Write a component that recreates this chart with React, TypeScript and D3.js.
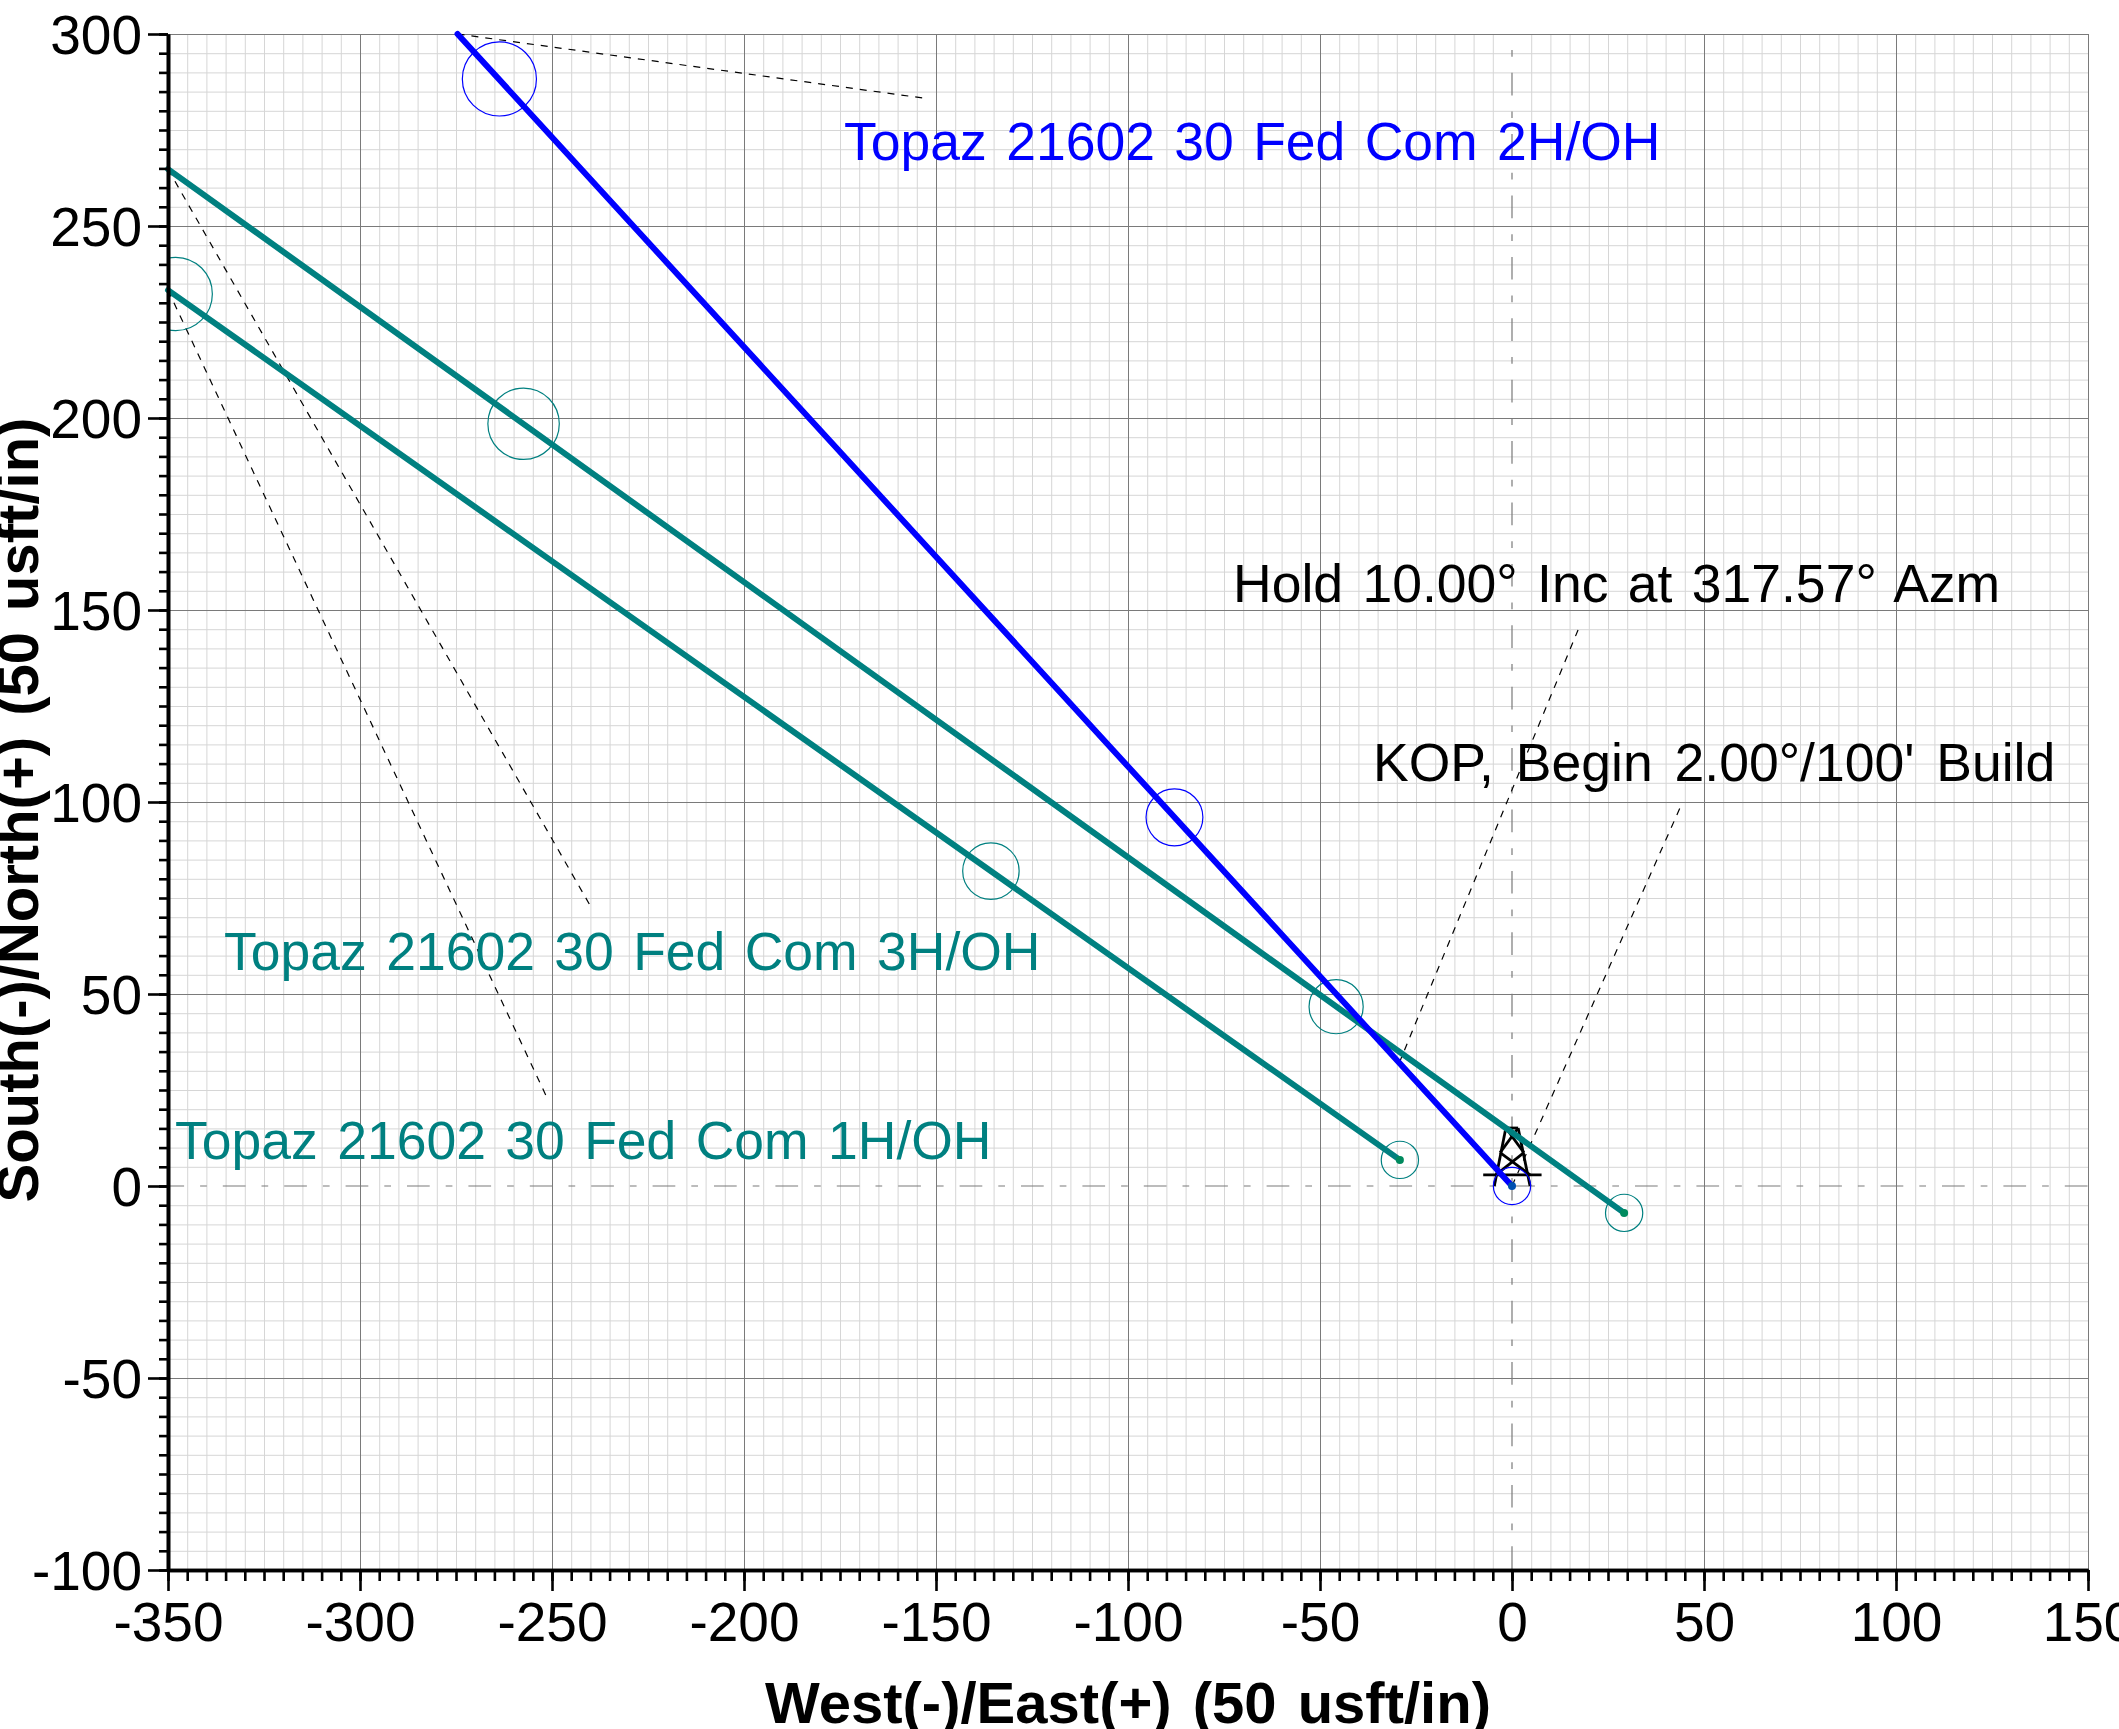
import * as d3 from "d3";
import React, { useEffect, useRef } from "react";

// well plan view, all values in usft
const xMajor = [-350, -300, -250, -200, -150, -100, -50, 0, 50, 100, 150];
const yMajor = [-100, -50, 0, 50, 100, 150, 200, 250, 300];

const well1H: [number, number][] = [[-29.2, 6.8], [-350, 233.3]];
const well3H: [number, number][] = [[29.2, -7], [-350, 264.8]];
const well2H: [number, number][] = [[0, 0], [-274.6, 300]];

// casing circles: x, y, radius
const rings1H = [[-29.2, 6.8, 4.85], [-135.7, 82, 7.35], [-348, 232.3, 9.55]];
const rings3H = [[29.2, -7, 4.85], [-45.8, 46.7, 7.05], [-257.4, 198.5, 9.3]];
const rings2H = [[0, 0, 4.85], [-87.9, 96, 7.4], [-263.7, 288.3, 9.65]];

const leaders = [
  [[-274.6, 300], [-153.2, 283.3]],
  [[-350, 264.8], [-239.7, 72.4]],
  [[-350, 233.3], [-251.4, 23.2]],
  [[-29.4, 32], [17.2, 144.8]],
  [[0, 0], [44.3, 99.7]],
];

const derrick = [
  [[-1.6, 15.1], [1.6, 15.1]],
  [[-1.6, 15.1], [-4.6, 0]],
  [[1.6, 15.1], [4.7, 0]],
  [[-7.5, 2.9], [7.7, 2.9]],
  [[-3.1, 8.7], [4.7, 2.9]],
  [[3.1, 8.7], [-4.2, 2.9]],
  [[-1.6, 15.1], [3.1, 8.7]],
  [[1.6, 15.1], [-3.1, 8.7]],
];

const wellNames = [
  "Topaz 21602 30 Fed Com 2H/OH",
  "Topaz 21602 30 Fed Com 3H/OH",
  "Topaz 21602 30 Fed Com 1H/OH",
];
const notes = ["Hold 10.00° Inc at 317.57° Azm", "KOP, Begin 2.00°/100' Build"];

const FONT = "'Liberation Sans', Arial, sans-serif";
const TEAL = "#008080";
const BLUE = "#0000ff";

export default function App() {
  const svgRef = useRef<SVGSVGElement | null>(null);

  useEffect(() => {
    const svg = d3.select(svgRef.current);
    svg.selectAll("*").remove();

    const x = d3.scaleLinear().domain([-350, 150]).range([168, 2088]);
    const y = d3.scaleLinear().domain([-100, 300]).range([1570, 34]);
    const xMinor = d3.range(-350, 151, 5);
    const yMinor = d3.range(-100, 301, 5);
    const w = 1920;
    const h = 1536;
    const notZero = (v: number) => v !== 0; // zero lines get their own dash-dot

    svg.append("defs").append("clipPath").attr("id", "plot")
      .append("rect").attr("x", 168).attr("y", 34).attr("width", w).attr("height", h);

    const gridColor = (g: any, c: string) => {
      g.select(".domain").remove();
      g.selectAll(".tick line").attr("stroke", c).attr("stroke-width", 1);
    };

    // grid, minor first
    svg.append("g").attr("transform", "translate(0,34)")
      .call(d3.axisBottom(x).tickValues(xMinor.filter(notZero)).tickSize(h).tickFormat(() => ""))
      .call(gridColor, "#d6d6d6");
    svg.append("g").attr("transform", "translate(168,0)")
      .call(d3.axisRight(y).tickValues(yMinor.filter(notZero)).tickSize(w).tickFormat(() => ""))
      .call(gridColor, "#d6d6d6");
    svg.append("g").attr("transform", "translate(0,34)")
      .call(d3.axisBottom(x).tickValues(xMajor.filter(notZero)).tickSize(h).tickFormat(() => ""))
      .call(gridColor, "#7a7a7a");
    svg.append("g").attr("transform", "translate(168,0)")
      .call(d3.axisRight(y).tickValues(yMajor.filter(notZero)).tickSize(w).tickFormat(() => ""))
      .call(gridColor, "#7a7a7a");

    // zero lines
    svg.append("line").attr("x1", x(-350)).attr("x2", x(150)).attr("y1", y(0)).attr("y2", y(0))
      .attr("stroke", "#7a7a7a").attr("stroke-width", 1.2)
      .attr("stroke-dasharray", "22.7 16 6.7 16").attr("stroke-dashoffset", -54.8);
    svg.append("line").attr("x1", x(0)).attr("x2", x(0)).attr("y1", y(300)).attr("y2", y(-100))
      .attr("stroke", "#7a7a7a").attr("stroke-width", 1.2)
      .attr("stroke-dasharray", "6.7 16 22.7 16").attr("stroke-dashoffset", -16);

    const seg = d3.line<number[]>().x(d => x(d[0])).y(d => y(d[1]));

    // rig symbol
    svg.append("g").selectAll("path").data(derrick).join("path")
      .attr("d", d => seg(d))
      .attr("stroke", "#000").attr("stroke-width", 2.8).attr("fill", "none");

    // leaders
    svg.append("g").selectAll("path").data(leaders).join("path")
      .attr("d", d => seg(d))
      .attr("stroke", "#000").attr("stroke-width", 1.2).attr("fill", "none")
      .attr("stroke-dasharray", "7 7");

    const k = x(1) - x(0);
    const drawRings = (rings: number[][], color: string) => {
      svg.append("g").attr("clip-path", "url(#plot)").selectAll("circle").data(rings).join("circle")
        .attr("cx", d => x(d[0])).attr("cy", d => y(d[1])).attr("r", d => d[2] * k)
        .attr("fill", "none").attr("stroke", color).attr("stroke-width", 1.2);
    };
    drawRings(rings1H, TEAL);
    drawRings(rings3H, TEAL);
    drawRings(rings2H, BLUE);

    // wellbores
    const drawWell = (pts: [number, number][], color: string) => {
      svg.append("path").attr("d", seg(pts)).attr("fill", "none").attr("stroke", color)
        .attr("stroke-width", 6).attr("stroke-linecap", "round");
      svg.append("circle").attr("cx", x(pts[0][0])).attr("cy", y(pts[0][1])).attr("r", 4)
        .attr("fill", color === BLUE ? "#0050b0" : "#008a5e");
    };
    drawWell(well1H, TEAL);
    drawWell(well3H, TEAL);
    drawWell(well2H, BLUE);

    // annotations
    const note = (text: string, px: number, py: number, fill: string, ws: number) =>
      svg.append("text").attr("x", px).attr("y", py).attr("fill", fill)
        .attr("font-family", FONT).attr("font-size", 53.5).attr("word-spacing", ws)
        .text(text);
    note(wellNames[0], 844, 160, BLUE, 4.5);
    note(wellNames[1], 224, 970, TEAL, 4.5);
    note(wellNames[2], 175, 1159, TEAL, 4.5);
    note(notes[0], 1233, 602, "#000", 4.5);
    note(notes[1], 1373, 781, "#000", 7);

    // axes
    const styleAxis = (g: any) => {
      g.select(".domain").attr("stroke", "#000").attr("stroke-width", 3.6);
      g.selectAll(".tick line").attr("stroke", "#000").attr("stroke-width", 2.6);
      g.selectAll("text").attr("fill", "#000").attr("font-family", FONT).attr("font-size", 55);
    };
    svg.append("g").attr("transform", "translate(0,1570)")
      .call(d3.axisBottom(x).tickValues(xMinor).tickSize(11).tickSizeOuter(0).tickFormat(() => ""))
      .call(styleAxis);
    svg.append("g").attr("transform", "translate(168,0)")
      .call(d3.axisLeft(y).tickValues(yMinor).tickSize(9).tickSizeOuter(0).tickFormat(() => ""))
      .call(styleAxis);
    svg.append("g").attr("transform", "translate(0,1570)")
      .call(d3.axisBottom(x).tickValues(xMajor).tickSize(21).tickSizeOuter(0).tickPadding(11).tickFormat(d => String(d)))
      .call(styleAxis);
    svg.append("g").attr("transform", "translate(168,0)")
      .call(d3.axisLeft(y).tickValues(yMajor).tickSize(20).tickSizeOuter(0).tickPadding(6).tickFormat(d => String(d)))
      .call(styleAxis)
      .call((g: any) => g.selectAll("text").attr("dy", "0.35em"));

    // axis titles
    svg.append("text").attr("x", 1128).attr("y", 1723).attr("text-anchor", "middle")
      .attr("font-family", FONT).attr("font-weight", 700).attr("font-size", 58).attr("word-spacing", 5)
      .text("West(-)/East(+) (50 usft/in)");
    svg.append("text").attr("transform", "translate(38,810) rotate(-90)").attr("text-anchor", "middle")
      .attr("font-family", FONT).attr("font-weight", 700).attr("font-size", 58).attr("word-spacing", 5)
      .text("South(-)/North(+) (50 usft/in)");
  }, []);

  return (
    <svg ref={svgRef} width={2119} height={1729}
      style={{ position: "absolute", left: 0, top: 0, background: "#fff" }} />
  );
}
